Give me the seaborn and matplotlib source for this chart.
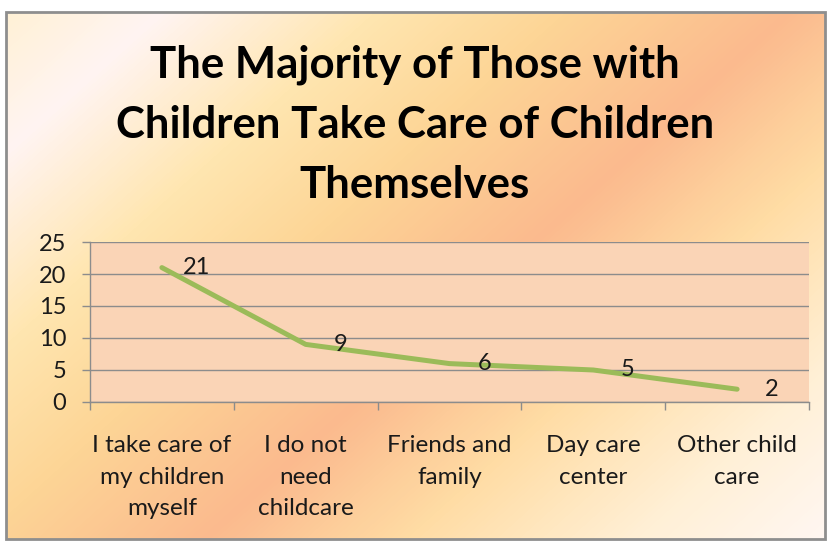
import numpy as np
import pandas as pd
import matplotlib
matplotlib.use("Agg")
import matplotlib.pyplot as plt
import seaborn as sns
from matplotlib.colors import LinearSegmentedColormap
from matplotlib.patches import FancyBboxPatch
from matplotlib.ticker import FixedLocator

categories = ["I take care of\nmy children\nmyself", "I do not\nneed\nchildcare",
              "Friends and\nfamily", "Day care\ncenter", "Other child\ncare"]
values = [21, 9, 6, 5, 2]
y_ticks = [0, 5, 10, 15, 20, 25]
title = "The Majority of Those with\nChildren Take Care of Children\nThemselves"

sns.set_style("white")
plt.rcParams['font.family'] = ['Lato', 'DejaVu Sans']

W, H = 831, 547
fig = plt.figure(figsize=(W / 100, H / 100), dpi=100)

# background gradient
bg = fig.add_axes([0, 0, 1, 1], zorder=-10)
xx, yy = np.meshgrid(np.arange(W), np.arange(H))
t = (xx + 1.11 * yy) / (W + 1.11 * H)
cmap = LinearSegmentedColormap.from_list("bg", [
    (0.0, "#FFF1D2"), (0.12, "#FFF4F2"), (0.27, "#FFE6B0"), (0.40, "#FDD596"),
    (0.56, "#FBBA8E"), (0.70, "#FFDCA4"), (0.86, "#FFF0D6"), (1.0, "#FFF7F4")])
bg.imshow(t, cmap=cmap, aspect="auto", extent=[0, 1, 0, 1], origin="upper")
bg.set_xlim(0, 1); bg.set_ylim(0, 1)
bg.axis("off")
white = plt.Rectangle((0, 0), 1, 1, transform=fig.transFigure, color="white", zorder=-11)
fig.patches.append(white)
for rect in [(0, 0, 5 / W, 1), (826 / W, 0, 1, 1), (0, 1 - 12 / H, 1, 1), (0, 0, 1, 7 / H)]:
    bg.add_patch(plt.Rectangle(rect[:2], rect[2], rect[3], transform=fig.transFigure,
                               color="white", zorder=5))
frame = FancyBboxPatch((6 / W, 8 / H), 819 / W, (H - 20) / H, boxstyle="square,pad=0",
                       transform=fig.transFigure, fill=False, edgecolor="#8E8E8E", linewidth=2.0)
fig.patches.append(frame)

ax = fig.add_axes([90 / W, 1 - 402 / H, (809 - 90) / W, (402 - 242) / H])
ax.set_facecolor("#FAD4B6")
df = pd.DataFrame({"pos": np.arange(len(values)), "value": values})
sns.lineplot(data=df, x="pos", y="value", ax=ax, color="#9BBB59", linewidth=3.6,
             solid_capstyle="round")
for i, v in enumerate(values):
    ax.annotate(str(v), (i, v), xytext=(25, 0), textcoords="offset points",
                ha="center", va="center", fontsize=17, color="#1a1a1a")

ax.set_xlim(-0.5, len(values) - 0.5)
ax.set_ylim(0, 25)
ax.set_yticks(y_ticks)
ax.set_xticks(np.arange(len(values)))
ax.set_xticklabels(categories, fontsize=17.5, color="#1a1a1a", linespacing=1.6)
ax.xaxis.set_minor_locator(FixedLocator(np.arange(-0.5, len(values), 1)))
ax.tick_params(axis="x", which="major", length=0, pad=24)
ax.tick_params(axis="x", which="minor", length=6, color="#8C8C8C", width=1, direction="out", bottom=True)
ax.tick_params(axis="y", length=6, color="#8C8C8C", width=1, pad=11, labelsize=17, labelcolor="#1a1a1a", left=True)
ax.grid(axis="y", color="#8C8C8C", linewidth=1)
ax.grid(axis="x", visible=False)
ax.set_axisbelow(True)
ax.set_xlabel(""); ax.set_ylabel("")
for s in ["top", "right"]:
    ax.spines[s].set_visible(False)
for s in ["left", "bottom"]:
    ax.spines[s].set_color("#8C8C8C")
    ax.spines[s].set_linewidth(1)

fig.text(415 / W, 1 - 125 / H, title, ha="center", va="center", fontsize=31.5,
         fontweight="bold", linespacing=1.6, color="black")

fig.savefig("out.png", dpi=100)
